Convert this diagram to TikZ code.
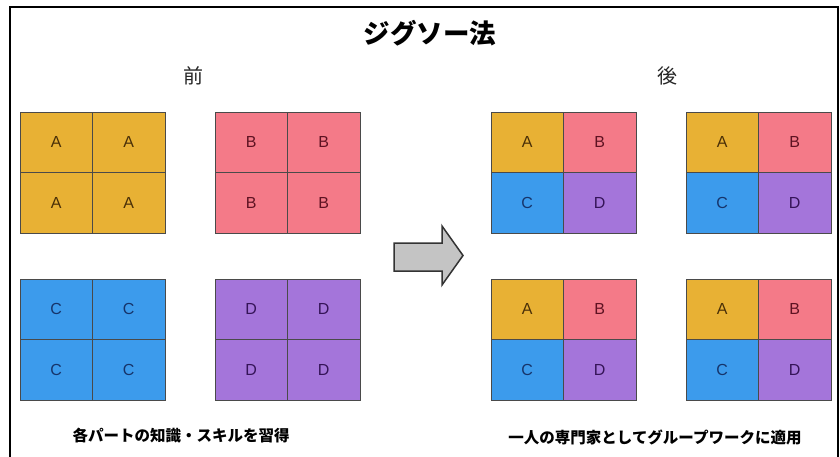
\documentclass[tikz,border=0pt]{standalone}
\usepackage{fontspec}
\setmainfont{Liberation Sans}
\newfontfamily\jp{Noto Sans CJK JP}
\definecolor{cA}{HTML}{E8B134}
\definecolor{cB}{HTML}{F47A88}
\definecolor{cC}{HTML}{3C9BEC}
\definecolor{cD}{HTML}{A475DA}
\definecolor{tA}{HTML}{4A3008}
\definecolor{tB}{HTML}{5E1222}
\definecolor{tC}{HTML}{16346A}
\definecolor{tD}{HTML}{351458}
\definecolor{edge}{HTML}{4A4A4A}
\tikzset{
  cell/.style={draw=edge, line width=0.9pt, minimum width=72.5pt, minimum height=60.5pt, inner sep=0pt, font=\fontsize{16}{16}\selectfont},
  cellA/.style={cell, fill=cA, text=tA},
  cellB/.style={cell, fill=cB, text=tB},
  cellC/.style={cell, fill=cC, text=tC},
  cellD/.style={cell, fill=cD, text=tD},
  title/.style={font=\jp\bfseries\fontsize{26.5}{26.5}\selectfont},
  head/.style={font=\jp\fontsize{20}{20}\selectfont, text=black!85},
  caption/.style={font=\jp\bfseries\fontsize{15.5}{15.5}\selectfont},
  frame/.style={line width=2pt, black},
  bigarrow/.style={fill=black!23, draw=black!80, line width=1.5pt, line join=miter}
}
\begin{document}
\begin{tikzpicture}[x=1pt, y=-1pt]
\useasboundingbox (0,0) rectangle (840,457);
\fill[white] (0,0) rectangle (840,457);
\draw[frame] (10,458) -- (10,7) -- (838,7) -- (838,458);

\node[title] (t) at (430,33) {ジグソー法};
\node[head] (before) at (193,76) {前};
\node[head] (after) at (667,76) {後};

% left groups
\node[cellA] (a11) at (56.25,142.25) {A};
\node[cellA] (a12) at (128.75,142.25) {A};
\node[cellA] (a21) at (56.25,202.75) {A};
\node[cellA] (a22) at (128.75,202.75) {A};

\node[cellB] (b11) at (251.25,142.25) {B};
\node[cellB] (b12) at (323.75,142.25) {B};
\node[cellB] (b21) at (251.25,202.75) {B};
\node[cellB] (b22) at (323.75,202.75) {B};

\node[cellC] (c11) at (56.25,309.25) {C};
\node[cellC] (c12) at (128.75,309.25) {C};
\node[cellC] (c21) at (56.25,369.75) {C};
\node[cellC] (c22) at (128.75,369.75) {C};

\node[cellD] (d11) at (251.25,309.25) {D};
\node[cellD] (d12) at (323.75,309.25) {D};
\node[cellD] (d21) at (251.25,369.75) {D};
\node[cellD] (d22) at (323.75,369.75) {D};

% right groups
\node[cellA] (g1a) at (527.25,142.25) {A};
\node[cellB] (g1b) at (599.75,142.25) {B};
\node[cellC] (g1c) at (527.25,202.75) {C};
\node[cellD] (g1d) at (599.75,202.75) {D};

\node[cellA] (g2a) at (722.25,142.25) {A};
\node[cellB] (g2b) at (794.75,142.25) {B};
\node[cellC] (g2c) at (722.25,202.75) {C};
\node[cellD] (g2d) at (794.75,202.75) {D};

\node[cellA] (g3a) at (527.25,309.25) {A};
\node[cellB] (g3b) at (599.75,309.25) {B};
\node[cellC] (g3c) at (527.25,369.75) {C};
\node[cellD] (g3d) at (599.75,369.75) {D};

\node[cellA] (g4a) at (722.25,309.25) {A};
\node[cellB] (g4b) at (794.75,309.25) {B};
\node[cellC] (g4c) at (722.25,369.75) {C};
\node[cellD] (g4d) at (794.75,369.75) {D};

% arrow
\draw[bigarrow] (394,243) -- (442,243) -- (442,226) -- (463,255.5) -- (442,285) -- (442,271) -- (394,271) -- cycle;

\node[caption] (capL) at (181,436) {各パートの知識・スキルを習得};
\node[caption] (capR) at (655,437) {一人の専門家としてグループワークに適用};
\end{tikzpicture}
\end{document}
